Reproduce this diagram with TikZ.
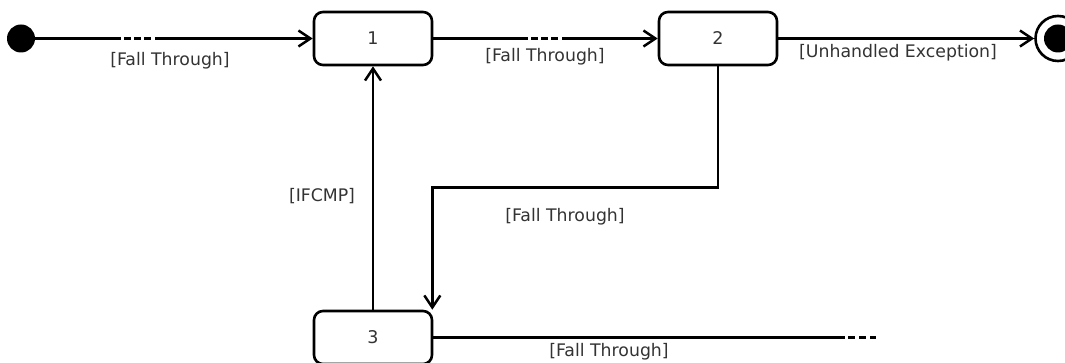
\documentclass[tikz,border=0pt]{standalone}
\usepackage{fontspec}
\setmainfont{DejaVu Sans}
\usetikzlibrary{arrows.meta}
\definecolor{labelgrey}{HTML}{333333}
\tikzset{
  state/.style={draw, line width=2.6pt, rounded corners=9pt, minimum width=118pt,
    minimum height=53pt, inner sep=0pt, text=labelgrey,
    font=\fontsize{17.5}{20}\selectfont},
  trans/.style={line width=2.5pt, -{Straight Barb[length=12pt, width=16pt, line width=2.5pt]}},
  guard/.style={text=labelgrey, font=\fontsize{17.3}{20}\selectfont, inner sep=0pt},
  dashhead/.style={dash pattern=on 86pt off 3pt on 7pt off 3pt on 7pt off 3pt on 7pt off 4pt on 400pt},
}
\begin{document}
\begin{tikzpicture}[x=1pt, y=-1pt]
\useasboundingbox (0,0) rectangle (1065,363);

% states
\node[state] (n1) at (373,38.5) {1};
\node[state] (n2) at (718,38.5) {2};
\node[state] (n3) at (373,337.5) {3};

% pseudo states
\node[circle, fill=black, minimum size=28pt, inner sep=0pt] (init) at (21,38.5) {};
\node[circle, draw, line width=2.6pt, minimum size=45pt, inner sep=0pt] (fin) at (1058,38.5) {};
\node[circle, fill=black, minimum size=28pt, inner sep=0pt] (finc) at (fin.center) {};
\coordinate (out3) at (876,337.5);

% transitions
\draw[trans, dashhead] (init.east) -- (n1.west);
\draw[trans, dash pattern=on 95pt off 3pt on 7pt off 3pt on 7pt off 3pt on 7pt off 4pt on 400pt] (n1.east) -- (n2.west);
\draw[trans] (n2.east) -- (fin.west);
\draw[trans] (n3.north) -- (n1.south);
\draw[trans] (n2.south) -- ++(0,121) -| ([xshift=-1pt]n3.north east);
\draw[line width=2.5pt, dash pattern=on 412pt off 3pt on 7pt off 4pt on 7pt off 4pt on 7pt] (n3.east) -- (out3);

% guards
\node[guard] (g1) at (170,61) {[Fall Through]};
\node[guard] (g2) at (545,57) {[Fall Through]};
\node[guard] (g3) at (898,53) {[Unhandled Exception]};
\node[guard] (g4) at (322,196) {[IFCMP]};
\node[guard] (g5) at (565,217) {[Fall Through]};
\node[guard] (g6) at (609,352) {[Fall Through]};
\end{tikzpicture}
\end{document}
